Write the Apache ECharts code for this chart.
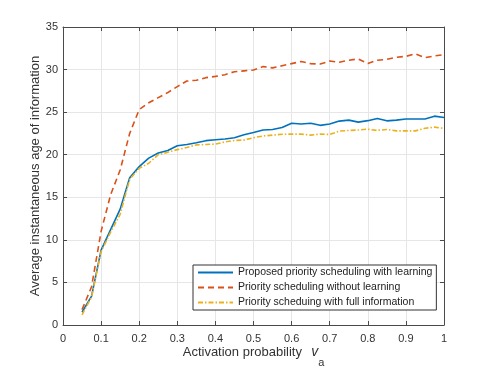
<!DOCTYPE html>
<html>
<head>
<meta charset="utf-8">
<script src="https://cdn.jsdelivr.net/npm/echarts@6/dist/echarts.min.js"></script>
<style>
html,body{margin:0;padding:0;background:#fff;}
#c{width:491px;height:368px;}
</style>
</head>
<body>
<div id="c"></div>
<script>
const xValues = [0.05,0.075,0.1,0.125,0.15,0.175,0.2,0.225,0.25,0.275,0.3,0.325,0.35,0.375,0.4,0.425,0.45,0.475,0.5,0.525,0.55,0.575,0.6,0.625,0.65,0.675,0.7,0.725,0.75,0.775,0.8,0.825,0.85,0.875,0.9,0.925,0.95,0.975,1.0];
const proposedLearning = [1.5,3.4,8.8,11.2,13.6,17.3,18.6,19.6,20.2,20.5,21.05,21.2,21.4,21.65,21.75,21.85,22.0,22.35,22.6,22.9,22.97,23.2,23.7,23.6,23.7,23.45,23.6,23.95,24.06,23.83,24.0,24.26,23.98,24.06,24.2,24.2,24.2,24.53,24.37];
const withoutLearning = [1.8,4.5,11.0,15.3,18.2,22.5,25.3,26.1,26.7,27.3,28.0,28.65,28.75,29.05,29.2,29.4,29.75,29.85,29.95,30.35,30.2,30.45,30.7,30.95,30.7,30.65,31.0,30.86,31.1,31.25,30.7,31.1,31.2,31.45,31.55,31.85,31.4,31.6,31.75];
const fullInformation = [1.2,3.3,8.6,10.9,13.0,17.1,18.4,19.0,20.0,20.3,20.6,20.85,21.15,21.2,21.25,21.5,21.68,21.72,22.0,22.2,22.3,22.4,22.42,22.42,22.3,22.42,22.38,22.77,22.85,22.9,23.0,22.85,22.97,22.8,22.8,22.8,23.1,23.24,23.1];
const seriesNames = ["Proposed priority scheduling with learning","Priority scheduling without learning","Priority scheduing with full information"];
const xTitle = "Activation probability";
const yTitle = "Average instantaneous age of information";

const pairs = arr => xValues.map((x,i)=>[x,arr[i]]);
const FONT = '"Liberation Sans", Arial, sans-serif';
const AX = '#4a4a4a';
const TXT = '#333';
const GRID = '#e6e6e6';

const chart = echarts.init(document.getElementById('c'), null, {renderer:'canvas'});
const baseX = {
  type:'value', min:0, max:1, interval:0.1,
  axisLine:{show:true, onZero:false, lineStyle:{color:AX, width:1}},
  axisTick:{show:true, inside:true, length:4, lineStyle:{color:AX}},
  splitLine:{show:false}
};
const baseY = {
  type:'value', min:0, max:35, interval:5,
  axisLine:{show:true, onZero:false, lineStyle:{color:AX, width:1}},
  axisTick:{show:true, inside:true, length:4, lineStyle:{color:AX}},
  splitLine:{show:false}
};
chart.setOption({
  animation:false,
  backgroundColor:'#fff',
  grid:{left:63, right:47, top:27, bottom:43, containLabel:false, outerBoundsMode:'none'},
  xAxis:[
    Object.assign({}, baseX, {
      position:'bottom',
      splitLine:{show:true, lineStyle:{color:GRID, width:1}},
      axisLabel:{show:true, margin:8, color:TXT, fontSize:11, fontFamily:FONT, formatter:v=>String(+v.toFixed(1))},
      name: xTitle + '  {i|v}{s|a}',
      nameLocation:'middle', nameGap:11, nameMoveOverlap:false,
      nameTextStyle:{color:TXT, fontSize:13, fontFamily:FONT, lineHeight:32,
        rich:{i:{fontStyle:'italic', fontSize:14, fontFamily:FONT, color:TXT, padding:[0,0,0,2]},
              s:{fontSize:11, fontFamily:FONT, color:TXT, verticalAlign:'bottom', lineHeight:9}}}
    }),
    Object.assign({}, baseX, {position:'top', axisLabel:{show:false}})
  ],
  yAxis:[
    Object.assign({}, baseY, {
      position:'left',
      splitLine:{show:true, lineStyle:{color:GRID, width:1}},
      axisLabel:{show:true, margin:5, color:TXT, fontSize:11, fontFamily:FONT},
      name: yTitle, nameLocation:'middle', nameGap:21, nameMoveOverlap:false,
      nameTextStyle:{color:TXT, fontSize:13, fontFamily:FONT}
    }),
    Object.assign({}, baseY, {position:'right', axisLabel:{show:false}})
  ],
  legend:{
    show:true, orient:'vertical', left:193, top:265,
    padding:[2,4,2,4], itemGap:4, itemWidth:35, itemHeight:10,
    backgroundColor:'#fff', borderColor:'#333', borderWidth:1, borderRadius:0,
    itemStyle:{opacity:0},
    textStyle:{color:'#222', fontSize:10.5, fontFamily:FONT},
    data:seriesNames
  },
  series:[
    {name:seriesNames[0], type:'line', data:pairs(proposedLearning), symbol:'none', z:4,
     lineStyle:{color:'#0072BD', width:1.6, type:'solid'}, itemStyle:{color:'#0072BD'}},
    {name:seriesNames[1], type:'line', data:pairs(withoutLearning), symbol:'none', z:3,
     lineStyle:{color:'#D95319', width:1.6, type:[6,4]}, itemStyle:{color:'#D95319'}},
    {name:seriesNames[2], type:'line', data:pairs(fullInformation), symbol:'none', z:5,
     lineStyle:{color:'#EDB120', width:1.6, type:[5,2,1.5,2]}, itemStyle:{color:'#EDB120'}}
  ]
});
</script>
</body>
</html>
